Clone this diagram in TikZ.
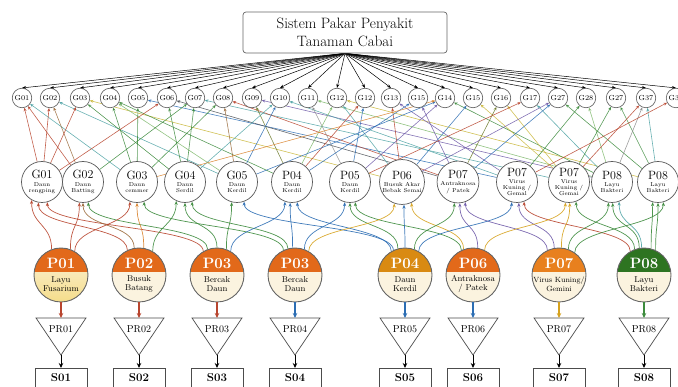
\documentclass[tikz,border=0pt]{standalone}
\usetikzlibrary{arrows.meta,calc,backgrounds}
\definecolor{cream}{HTML}{FBF3DF}
\definecolor{yel}{HTML}{F5DD8A}
\definecolor{orgA}{HTML}{E2691A}
\definecolor{amb}{HTML}{D98A12}
\definecolor{orgB}{HTML}{E8801E}
\definecolor{grnD}{HTML}{2E7421}
\definecolor{cR}{HTML}{B8452E}
\definecolor{cT}{HTML}{4FA3A5}
\definecolor{cBr}{HTML}{9A6A3A}
\definecolor{cG}{HTML}{3D8B3D}
\definecolor{cLG}{HTML}{7DB86A}
\definecolor{cY}{HTML}{C8B637}
\definecolor{cB}{HTML}{2C6DB3}
\definecolor{cD}{HTML}{4A4F55}
\definecolor{cP}{HTML}{6E5AA8}
\definecolor{cO}{HTML}{6D7A2B}
\definecolor{cOr}{HTML}{D9822B}
\definecolor{cGr}{HTML}{8C8C8C}
\definecolor{cAm}{HTML}{D6A21E}
\begin{document}
\begin{tikzpicture}[x=1pt,y=-1pt,
 gnode/.style={circle,draw=black!65,line width=0.6pt,fill=white,minimum size=19.5pt,inner sep=0pt,font=\fontsize{7.3}{8}\selectfont},
 midnode/.style={circle,draw=black!65,line width=0.7pt,fill=white,minimum size=41pt,inner sep=0pt,align=center,font=\fontsize{5.7}{6.2}\selectfont},
 botc/.style={circle,draw=black!60,line width=0.9pt,minimum size=54pt,inner sep=0pt,fill=cream,path picture={\fill[#1] (path picture bounding box.north west) rectangle ([yshift=3pt]path picture bounding box.east);}},
 ptitle/.style={font=\fontsize{15}{15}\selectfont\bfseries,text=white,inner sep=0pt},
 psub/.style={font=\fontsize{8.5}{9.5}\selectfont,align=center,inner sep=0pt},
 trilab/.style={font=\fontsize{10}{10}\selectfont,inner sep=0pt},
 tri/.style={draw=black!70,line width=0.7pt,fill=white},
 sbox/.style={draw=black!70,line width=0.7pt,fill=white,minimum width=52pt,inner ysep=5pt,text height=8pt,text depth=10pt,anchor=north,font=\fontsize{11.5}{12}\selectfont\bfseries},
 titlebox/.style={draw=black!60,line width=0.7pt,rounded corners=3pt,minimum width=204pt,minimum height=41pt,align=center,font=\fontsize{15}{18.5}\selectfont},
 fan/.style={-{Stealth[length=4pt,width=3pt]},line width=0.5pt,black},
 gedge/.style={-{Stealth[length=3.5pt,width=3pt]},line width=0.6pt,opacity=0.85},
 pedge/.style={-{Stealth[length=4pt,width=3.2pt]},line width=0.7pt,opacity=0.9},
 downarr/.style={-{Stealth[length=5pt,width=4.5pt]},line width=1.3pt},
]
\useasboundingbox (0,0) rectangle (678,387);

% title
\node[titlebox] (T) at (345,32.5) {Sistem Pakar Penyakit\\Tanaman Cabai};

% G row
\foreach \i/\x/\t in {1/22/G01,2/50/G02,3/80/G03,4/110/G04,5/138/G05,6/167/G06,7/195/G07,8/223/G08,9/252/G09,10/280/G10,11/308/G11,12/337/G12,13/365/G12,14/391/G13,15/418/G15,16/445/G14,17/473/G15,18/501/G16,19/530/G17,20/558/G27,21/586/G28,22/616/G27,23/646/G37}
  \node[gnode] (g\i) at (\x,98) {\t};
\node[gnode] (g24) at (676,98) {G3\phantom{0}};

% middle row
\node[midnode] (m1) at (42,182) {{\fontsize{12}{12}\selectfont G01}\\[1pt]Daun\\rengping};
\node[midnode] (m2) at (83,182) {{\fontsize{12}{12}\selectfont G02}\\[1pt]Daun\\Batting};
\node[midnode] (m3) at (137,182) {{\fontsize{12}{12}\selectfont G03}\\[1pt]Daun\\cemmer};
\node[midnode] (m4) at (185,182) {{\fontsize{12}{12}\selectfont G04}\\[1pt]Daun\\Serdil};
\node[midnode] (m5) at (237,182) {{\fontsize{12}{12}\selectfont G05}\\[1pt]Daun\\Kerdil};
\node[midnode] (m6) at (292,182) {{\fontsize{12}{12}\selectfont P04}\\[1pt]Daun\\Kerdil};
\node[midnode] (m7) at (350,182) {{\fontsize{12}{12}\selectfont P05}\\[1pt]Daun\\Kerdil};
\node[midnode] (m8) at (402,182) {{\fontsize{12}{12}\selectfont P06}\\[1pt]Busuk Akar\\Bebak Semai};
\node[midnode] (m9) at (458,182) {{\fontsize{12}{12}\selectfont P07}\\[1pt]Antraknosa\\/ Patek};
\node[midnode] (m10) at (517,182) {{\fontsize{12}{12}\selectfont P07}\\[1pt]Virus\\Kuning /\\Gemal};
\node[midnode] (m11) at (569,182) {{\fontsize{12}{12}\selectfont P07}\\[1pt]Virus\\Kuning /\\Gemai};
\node[midnode] (m12) at (612,182) {{\fontsize{12}{12}\selectfont P08}\\[1pt]Layu\\Bakteri};
\node[midnode] (m13) at (658,182) {{\fontsize{12}{12}\selectfont P08}\\[1pt]Layu\\Bakteri};

% bottom row
\node[botc=orgA,shade,top color=cream,bottom color=yel] (b1) at (61,275) {};
\node[botc=orgA] (b2) at (139,275) {};
\node[botc=orgA] (b3) at (217,275) {};
\node[botc=orgA] (b4) at (295,275) {};
\node[botc=amb] (b5) at (405,275) {};
\node[botc=orgA] (b6) at (473,275) {};
\node[botc=orgB] (b7) at (559,275) {};
\node[botc=grnD] (b8) at (644,275) {};
\foreach \i/\p in {1/P01,2/P02,3/P03,4/P03,5/P04,6/P06,7/P07,8/P08}
  \node[ptitle] (bt\i) at ($(b\i)+(0,-12)$) {\p};
\node[psub] (bs1) at ($(b1)+(0,9)$) {Layu\\Fusarium};
\node[psub] (bs2) at ($(b2)+(0,9)$) {Busuk\\Batang};
\node[psub] (bs3) at ($(b3)+(0,9)$) {Bercak\\Daun};
\node[psub] (bs4) at ($(b4)+(0,9)$) {Bercak\\Daun};
\node[psub] (bs5) at ($(b5)+(0,9)$) {Daun\\Kerdil};
\node[psub] (bs6) at ($(b6)+(0,9)$) {Antraknosa\\/ Patek};
\node[psub,font=\fontsize{7.5}{9}\selectfont] (bs7) at ($(b7)+(0,9)$) {Virus Kuning/\\Gemini};
\node[psub] (bs8) at ($(b8)+(0,9)$) {Layu\\Bakteri};

% triangles, S boxes
\foreach \i/\x/\pr/\s/\c in {1/61/PR01/S01/cR,2/139/PR02/S02/cR,3/217/PR03/S03/cR,4/295/PR04/S04/cB,5/405/PR05/S05/cB,6/473/PR06/S06/cB,7/559/PR07/S07/cAm,8/644/PR08/S08/cG}{
  \coordinate (tt\i) at (\x,318);
  \coordinate (tb\i) at (\x,355);
  \draw[tri] (\x-25,318) -- (\x+25,318) -- (tb\i) -- cycle;
  \node[trilab] (tr\i) at (\x,329) {\pr};
  \node[sbox] (s\i) at (\x,368) {\s};
  \draw[downarr,color=\c] (b\i) -- (tt\i);
  \draw[downarr,line width=0.9pt,black] (tb\i) -- (s\i.north);
}

\begin{scope}[on background layer]
% fan
\foreach \i in {1,...,24}
  \draw[fan] (T.south) -- (g\i.north);
% middle -> G row
\foreach \g/\m/\c in {1/1/cR,1/3/cT,1/2/cR,2/5/cT,2/2/cBr,2/1/cR,3/1/cR,3/4/cG,3/8/cY,4/3/cG,4/5/cLG,4/6/cG,5/3/cG,5/10/cB,6/1/cR,6/4/cG,6/9/cD,7/4/cG,7/11/cT,7/2/cG,8/5/cBr,8/3/cG,8/9/cR,9/6/cO,9/12/cP,10/5/cB,10/10/cT,10/4/cT,11/7/cGr,11/12/cLG,12/8/cT,12/13/cY,12/6/cLG,13/7/cB,13/6/cR,14/8/cR,14/10/cP,15/6/cB,15/9/cP,16/7/cP,16/5/cB,16/3/cOr,16/12/cG,17/8/cB,17/11/cY,18/9/cO,18/11/cY,19/7/cR,19/12/cT,20/8/cP,20/13/cG,20/9/cB,21/10/cG,21/12/cLG,22/11/cG,22/13/cG,23/12/cGr,23/13/cT,23/11/cR,24/10/cR}
  \draw[gedge,color=\c] (m\m) -- (g\g);
% bottom -> middle
\foreach \b/\ba/\m/\ma/\c in {1/110/1/-120/cR,2/115/1/-100/cR,3/120/1/-75/cR,
  1/70/2/-100/cR,2/100/2/-90/cBr,3/110/2/-75/cG,
  1/60/3/-110/cR,2/80/3/-90/cOr,4/115/3/-70/cG,
  2/60/4/-115/cG,3/90/4/-90/cG,4/105/4/-70/cG,
  3/70/5/-105/cG,5/115/5/-70/cB,
  3/60/6/-110/cB,4/95/6/-95/cB,5/120/6/-75/cB,
  4/70/7/-105/cB,5/105/7/-90/cG,6/115/7/-75/cG,
  4/60/8/-110/cAm,5/90/8/-85/cB,6/110/8/-65/cAm,
  5/70/9/-100/cG,6/80/9/-85/cP,7/115/9/-70/cP,
  5/60/10/-105/cB,7/100/10/-85/cP,8/120/10/-70/cR,
  6/65/11/-100/cAm,7/85/11/-88/cAm,8/110/11/-70/cG,
  7/70/12/-100/cG,8/100/12/-88/cG,8/95/12/-70/cT,
  8/75/13/-105/cG,8/65/13/-90/cG,7/55/13/-75/cG}
  \draw[pedge,color=\c] (b\b.\ba) .. controls +(0,-25) and +(0,25) .. (m\m.\ma);
\end{scope}
\end{tikzpicture}
\end{document}
